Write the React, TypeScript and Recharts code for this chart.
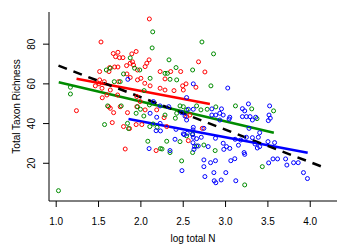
import React from "react";
import { ComposedChart, Scatter, Line, XAxis, YAxis } from "recharts";

const FONT = '"Liberation Sans", Arial, Helvetica, sans-serif';
const RED = "#FF0000";
const GREEN = "#008B00";
const BLUE = "#0000FF";

const xTicks = [1.0, 1.5, 2.0, 2.5, 3.0, 3.5, 4.0];
const yTicks = [20, 40, 60, 80];
const xDomain = [0.915, 4.316];
const yDomain = [1.0, 96.2];

const redPts: [number, number][] = [
  [2.1, 92.7], [1.529, 81.1], [1.674, 75.3], [1.729, 75.9], [1.701, 73.7], [1.893, 75.1], [1.944, 76.3],
  [1.748, 73.2], [1.788, 73.2], [2.097, 72.1], [1.901, 71.1], [1.913, 69.5], [1.69, 68.5], [1.729, 68.5],
  [1.831, 69.2], [1.874, 70.4], [1.96, 67.0], [1.513, 66.2], [1.623, 66.2], [1.631, 68.2], [1.835, 65.0],
  [1.874, 63.2], [2.07, 70.4], [2.05, 68.7], [2.227, 66.2], [2.681, 71.1], [2.352, 66.2], [2.47, 66.2],
  [1.513, 62.0], [1.568, 61.1], [1.737, 61.1], [2.0, 62.8], [1.96, 62.0], [2.046, 60.3], [2.109, 59.0],
  [1.462, 59.0], [1.639, 56.9], [1.599, 54.4], [1.725, 54.4], [2.285, 62.5], [2.227, 57.8], [2.285, 56.9],
  [2.391, 56.6], [2.501, 56.9], [2.65, 58.3], [1.619, 48.5], [1.639, 47.7], [1.756, 48.5], [1.239, 46.5],
  [1.678, 45.5], [1.842, 45.5], [1.952, 53.6], [1.991, 51.1], [2.187, 46.9], [2.54, 43.5], [2.579, 44.3],
  [1.506, 60.0], [1.541, 57.8], [1.544, 53.0], [1.662, 40.5], [2.756, 66.0], [2.493, 59.0], [2.533, 60.0],
  [1.795, 38.5], [1.866, 37.5], [1.952, 48.5], [2.011, 39.5], [1.944, 39.5], [1.815, 27.2], [2.18, 26.4],
  [2.05, 46.9], [2.274, 43.0], [2.56, 31.4], [2.305, 38.5], [2.725, 37.6],
];

const greenPts: [number, number][] = [
  [2.14, 86.2], [2.133, 78.1], [2.332, 72.1], [2.611, 67.0], [2.415, 68.2], [1.592, 67.0], [1.639, 67.9],
  [1.874, 73.1], [1.925, 67.9], [1.987, 67.0], [1.795, 65.0], [2.109, 62.8], [2.285, 65.3], [2.313, 65.3],
  [2.344, 62.3], [2.423, 62.0], [1.686, 61.1], [1.756, 61.1], [1.168, 58.3], [1.168, 54.9], [2.038, 56.6],
  [1.607, 48.9], [1.768, 48.9], [1.96, 48.5], [2.101, 49.4], [2.501, 48.5], [2.54, 46.9], [2.658, 48.9],
  [2.423, 45.2], [1.027, 6.2], [1.571, 39.5], [2.721, 81.1], [2.858, 75.1], [2.827, 59.0], [3.117, 48.9],
  [3.309, 47.4], [3.567, 46.4], [2.885, 48.4], [2.709, 46.9], [1.854, 37.5], [1.842, 40.1], [1.944, 45.2],
  [1.995, 47.2], [2.035, 43.8], [2.082, 31.1], [2.105, 38.5], [2.144, 39.8], [2.191, 38.1], [2.231, 27.4],
  [2.25, 27.2], [2.305, 31.1], [2.344, 25.4], [2.481, 21.2], [2.611, 25.4], [2.658, 28.7], [2.285, 44.3],
  [2.407, 42.7], [2.462, 48.9], [2.783, 47.2], [3.371, 42.5], [2.611, 34.8], [2.54, 33.8], [2.462, 30.9],
  [2.877, 26.4], [2.744, 29.2], [3.434, 18.3], [3.226, 9.1],
];

const bluePts: [number, number][] = [
  [1.846, 62.3], [2.619, 60.0], [2.54, 53.1], [2.148, 51.1], [2.227, 48.9], [2.329, 48.5], [2.56, 47.2],
  [2.619, 47.2], [2.481, 45.5], [2.521, 43.8], [2.109, 45.2], [2.187, 43.2], [3.026, 57.9], [3.27, 49.9],
  [3.52, 48.9], [3.199, 47.5], [3.226, 46.4], [2.952, 47.4], [2.838, 47.4], [2.932, 45.2], [2.885, 44.3],
  [2.838, 44.3], [2.972, 44.3], [3.05, 43.2], [3.199, 43.5], [3.246, 43.5], [3.289, 43.5], [3.356, 43.2],
  [3.513, 44.3], [3.528, 42.7], [2.097, 27.4], [2.227, 40.1], [2.18, 36.4], [2.231, 36.3], [2.344, 26.4],
  [2.403, 32.1], [2.485, 16.3], [2.54, 41.8], [2.513, 34.4], [2.611, 34.4], [2.615, 30.4], [2.627, 27.0],
  [2.658, 32.4], [2.677, 28.7], [2.615, 36.8], [2.415, 37.1], [3.042, 42.3], [2.932, 41.8], [3.505, 41.5],
  [3.317, 41.8], [2.744, 37.6], [2.619, 38.1], [2.501, 34.8], [2.548, 35.1], [2.619, 33.1], [2.713, 33.1],
  [2.634, 28.4], [2.795, 28.4], [2.881, 32.6], [2.972, 30.1], [3.011, 28.4], [2.979, 27.0], [3.05, 27.5],
  [3.152, 29.1], [3.113, 32.1], [3.179, 31.7], [3.246, 33.1], [3.317, 32.9], [3.387, 33.1], [3.403, 35.4],
  [3.277, 37.6], [3.219, 25.4], [3.226, 24.5], [3.403, 28.4], [3.348, 29.7], [3.375, 27.7], [3.501, 30.9],
  [3.579, 30.4], [3.062, 21.3], [3.109, 22.3], [2.881, 21.3], [2.823, 20.3], [2.744, 21.7], [2.744, 18.3],
  [2.862, 15.3], [3.003, 15.3], [2.756, 13.3], [2.948, 11.6], [2.866, 11.2], [2.885, 10.2], [3.121, 11.2],
  [3.56, 22.2], [3.614, 22.2], [3.709, 22.2], [3.509, 20.2], [3.724, 19.1], [3.803, 20.3], [3.858, 20.3],
  [3.92, 15.3], [3.967, 12.3],
];

const redFit: [number, number][] = [[1.24, 62.6], [2.815, 49.9]];
const greenFit: [number, number][] = [[1.03, 60.8], [3.57, 35.4]];
const blueFit: [number, number][] = [[1.854, 42.3], [3.97, 25.3]];
const allFit: [number, number][] = [[1.027, 69.2], [4.18, 17.6]];

const toRows = (arr: [number, number][]) => arr.map(([x, y]) => ({ x, y }));

const ring = (color: string) => (props: any) => (
  <circle cx={props.cx} cy={props.cy} r={2} fill="none" stroke={color} strokeWidth={1} />
);

const YTick = (props: any) => {
  const { y, payload } = props;
  return (
    <text
      transform={`translate(31,${y}) rotate(-90)`}
      textAnchor="middle"
      dy="0.35em"
      fontSize={10}
      fontFamily={FONT}
      fill="#000"
    >
      {payload.value}
    </text>
  );
};

const XTick = (props: any) => {
  const { x, y, payload } = props;
  return (
    <text x={x} y={221.7} textAnchor="middle" dy="0.35em" fontSize={10} fontFamily={FONT} fill="#000">
      {Number(payload.value).toFixed(1)}
    </text>
  );
};

export default function App() {
  return (
    <div style={{ position: "absolute", left: 0, top: 0, background: "#fff" }}>
      <ComposedChart width={350} height={250} margin={{ top: 12, right: 13, bottom: 0, left: 0 }}>
        <XAxis
          type="number"
          dataKey="x"
          domain={xDomain}
          ticks={xTicks}
          allowDataOverflow
          height={49}
          tickSize={6}
          axisLine={{ stroke: "#000", strokeWidth: 1 }}
          tickLine={{ stroke: "#000", strokeWidth: 1 }}
          tick={<XTick />}
          label={(p: any) => {
            const vb = p.viewBox || { x: 49, y: 201, width: 288 };
            return (
              <text
                x={vb.x + vb.width / 2}
                y={238}
                textAnchor="middle"
                dy="0.35em"
                fontSize={10}
                fontFamily={FONT}
                fill="#000"
              >
                log total N
              </text>
            );
          }}
        />
        <YAxis
          type="number"
          dataKey="y"
          domain={yDomain}
          ticks={yTicks}
          allowDataOverflow
          width={49}
          tickSize={6}
          axisLine={{ stroke: "#000", strokeWidth: 1 }}
          tickLine={{ stroke: "#000", strokeWidth: 1 }}
          tick={<YTick />}
          label={(p: any) => {
            const vb = p.viewBox || { x: 0, y: 12, height: 189 };
            const cy = vb.y + vb.height / 2;
            return (
              <text
                transform={`translate(16.5,${cy}) rotate(-90)`}
                textAnchor="middle"
                dy="0.35em"
                fontSize={10}
                fontFamily={FONT}
                fill="#000"
              >
                Total Taxon Richness
              </text>
            );
          }}
        />
        <Scatter data={toRows(redPts)} dataKey="y" shape={ring(RED)} isAnimationActive={false} />
        <Scatter data={toRows(greenPts)} dataKey="y" shape={ring(GREEN)} isAnimationActive={false} />
        <Scatter data={toRows(bluePts)} dataKey="y" shape={ring(BLUE)} isAnimationActive={false} />
        <Line data={toRows(redFit)} dataKey="y" type="linear" stroke={RED} strokeWidth={2.5} dot={false} activeDot={false} isAnimationActive={false} />
        <Line data={toRows(greenFit)} dataKey="y" type="linear" stroke={GREEN} strokeWidth={2.5} dot={false} activeDot={false} isAnimationActive={false} />
        <Line data={toRows(blueFit)} dataKey="y" type="linear" stroke={BLUE} strokeWidth={2.5} dot={false} activeDot={false} isAnimationActive={false} />
        <Line data={toRows(allFit)} dataKey="y" type="linear" stroke="#000" strokeWidth={2.5} strokeDasharray="9 7" dot={false} activeDot={false} isAnimationActive={false} />
      </ComposedChart>
    </div>
  );
}
